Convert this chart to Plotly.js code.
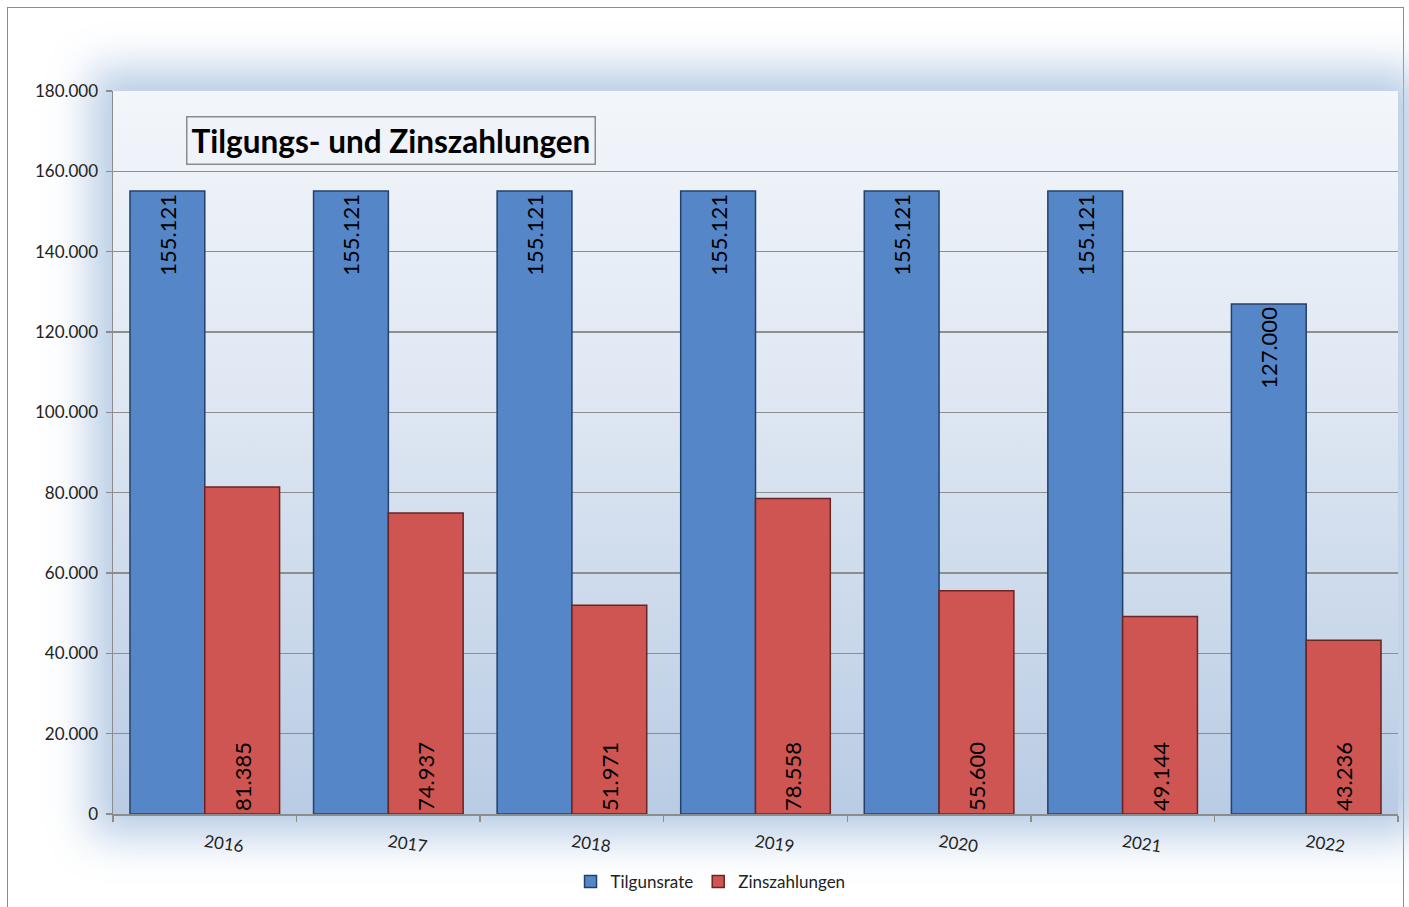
<!DOCTYPE html>
<html>
<head>
<meta charset="utf-8">
<script src="https://cdn.plot.ly/plotly-3.0.1.min.js"></script>
<style>
  html, body { margin: 0; padding: 0; background: #ffffff; overflow: hidden; }
  #frame { position: absolute; left: 7px; top: 7px; width: 1397px; height: 920px; border: 1.5px solid #8c8c8c; box-sizing: border-box; }
  #halo { position: absolute; left: 113px; top: 91px; width: 1285px; height: 723px;
          background: linear-gradient(to bottom, #f3f6fb 0%, #dde6f2 45%, #b9cce4 100%);
          box-shadow: 0 0 40px 22px rgba(170,195,225,0.85); }
  #chart { position: absolute; left: 0; top: 0; width: 1409px; height: 907px; }
</style>
</head>
<body>
<div id="frame"></div>
<div id="halo"></div>
<div id="chart"></div>
<script>
const years = ['2016', '2017', '2018', '2019', '2020', '2021', '2022'];
const tilgungsrate = [155121, 155121, 155121, 155121, 155121, 155121, 127000];
const zinszahlungen = [81385, 74937, 51971, 78558, 55600, 49144, 43236];
const yTicks = [0, 20000, 40000, 60000, 80000, 100000, 120000, 140000, 160000, 180000];

const font = 'Lato, "Open Sans", sans-serif';

const traces = [
  {
    type: 'bar', name: 'Tilgunsrate', x: years, y: tilgungsrate,
    marker: { color: '#5586c8', line: { color: '#24406a', width: 1.5 } },
    texttemplate: '%{y:,.0f}', textposition: 'inside', insidetextanchor: 'end',
    textangle: -90, constraintext: 'none',
    textfont: { family: font, size: 22, color: '#000000' }
  },
  {
    type: 'bar', name: 'Zinszahlungen', x: years, y: zinszahlungen,
    marker: { color: '#cf5552', line: { color: '#6a2422', width: 1.5 } },
    texttemplate: '%{y:,.0f}', textposition: 'inside', insidetextanchor: 'start',
    textangle: -90, constraintext: 'none',
    textfont: { family: font, size: 22, color: '#000000' }
  }
];

const layout = {
  width: 1409, height: 907,
  margin: { l: 113, r: 11, t: 91, b: 93, pad: 0, autoexpand: false },
  paper_bgcolor: 'rgba(0,0,0,0)',
  plot_bgcolor: 'rgba(0,0,0,0)',
  separators: ',.',
  barmode: 'group', bargap: 0.185, bargroupgap: 0,
  font: { family: font, color: '#222222' },
  showlegend: true,
  legend: {
    orientation: 'h', x: 0.465, xanchor: 'center', y: -0.094, yanchor: 'middle',
    font: { family: font, size: 17, color: '#222222' }, bgcolor: 'rgba(0,0,0,0)'
  },
  xaxis: {
    type: 'category', automargin: false, showgrid: false, showline: true, linecolor: '#8c8c8c', linewidth: 1.5,
    ticks: 'outside', tickson: 'boundaries', ticklen: 6, tickcolor: '#8c8c8c', tickwidth: 1.5,
    tickangle: 8, ticklabelstandoff: 11,
    tickfont: { family: font, size: 17, color: '#222222' }, fixedrange: true
  },
  yaxis: {
    range: [0, 180000], tickvals: yTicks, tickformat: ',.0f', automargin: false,
    showgrid: true, gridcolor: '#8e8e8e', gridwidth: 1.5,
    showline: true, linecolor: '#8c8c8c', linewidth: 1.5,
    ticks: 'outside', ticklen: 6, tickcolor: '#8c8c8c', tickwidth: 1.5, ticklabelstandoff: 4,
    tickfont: { family: font, size: 17, color: '#222222' }, zeroline: false, fixedrange: true
  },
  annotations: [{
    text: '<b>Tilgungs- und Zinszahlungen</b>',
    xref: 'paper', yref: 'paper', x: 0.0568, y: 0.932, xanchor: 'left', yanchor: 'middle',
    showarrow: false, font: { family: font, size: 31.5, color: '#000000' },
    bordercolor: '#8c8c8c', borderwidth: 1.5, borderpad: 4, bgcolor: 'rgba(240,244,250,0.6)'
  }]
};

Plotly.newPlot('chart', traces, layout, { displayModeBar: false, staticPlot: true });
</script>
</body>
</html>
